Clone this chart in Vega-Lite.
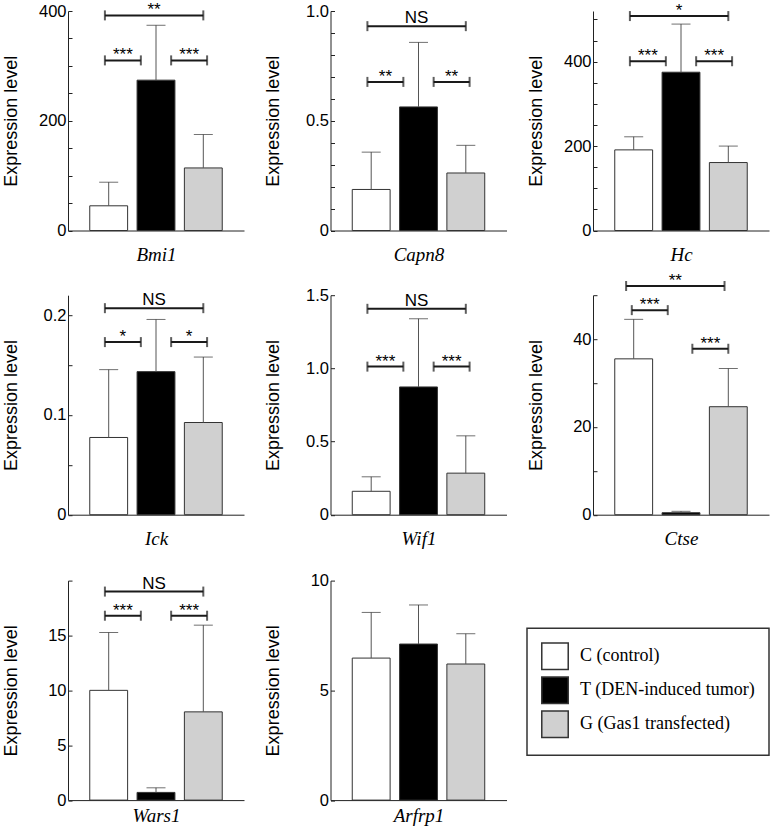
{
"$schema":"https://vega.github.io/schema/vega-lite/v6.json",
"padding":{"left":1,"top":1,"right":0,"bottom":0},
"datasets":{"d":[
{"gene":"Bmi1","group":"C","mean":45,"upper":88},
{"gene":"Bmi1","group":"T","mean":274,"upper":374},
{"gene":"Bmi1","group":"G","mean":114,"upper":175},
{"gene":"Capn8","group":"C","mean":0.187,"upper":0.357},
{"gene":"Capn8","group":"T","mean":0.563,"upper":0.857},
{"gene":"Capn8","group":"G","mean":0.262,"upper":0.388},
{"gene":"Hc","group":"C","mean":191,"upper":222},
{"gene":"Hc","group":"T","mean":375,"upper":489},
{"gene":"Hc","group":"G","mean":161,"upper":200},
{"gene":"Ick","group":"C","mean":0.0774,"upper":0.1454},
{"gene":"Ick","group":"T","mean":0.1434,"upper":0.1957},
{"gene":"Ick","group":"G","mean":0.0924,"upper":0.158},
{"gene":"Wif1","group":"C","mean":0.16,"upper":0.259},
{"gene":"Wif1","group":"T","mean":0.873,"upper":1.339},
{"gene":"Wif1","group":"G","mean":0.284,"upper":0.539},
{"gene":"Ctse","group":"C","mean":35.5,"upper":44.5},
{"gene":"Ctse","group":"T","mean":0.45,"upper":0.77},
{"gene":"Ctse","group":"G","mean":24.6,"upper":33.3},
{"gene":"Wars1","group":"C","mean":10.0,"upper":15.27},
{"gene":"Wars1","group":"T","mean":0.7,"upper":1.12},
{"gene":"Wars1","group":"G","mean":8.04,"upper":15.94},
{"gene":"Arfrp1","group":"C","mean":6.47,"upper":8.55},
{"gene":"Arfrp1","group":"T","mean":7.11,"upper":8.89},
{"gene":"Arfrp1","group":"G","mean":6.2,"upper":7.58},
{"gene":"Bmi1","pair":"CG","from":"C","to":"G","h":392,"label":"**"},
{"gene":"Bmi1","pair":"CT","from":"C","to":"T","h":310,"label":"***"},
{"gene":"Bmi1","pair":"TG","from":"T","to":"G","h":310,"label":"***"},
{"gene":"Capn8","pair":"CG","from":"C","to":"G","h":0.931,"label":"NS"},
{"gene":"Capn8","pair":"CT","from":"C","to":"T","h":0.677,"label":"**"},
{"gene":"Capn8","pair":"TG","from":"T","to":"G","h":0.677,"label":"**"},
{"gene":"Hc","pair":"CG","from":"C","to":"G","h":508,"label":"*"},
{"gene":"Hc","pair":"CT","from":"C","to":"T","h":401,"label":"***"},
{"gene":"Hc","pair":"TG","from":"T","to":"G","h":401,"label":"***"},
{"gene":"Ick","pair":"CG","from":"C","to":"G","h":0.207,"label":"NS"},
{"gene":"Ick","pair":"CT","from":"C","to":"T","h":0.173,"label":"*"},
{"gene":"Ick","pair":"TG","from":"T","to":"G","h":0.173,"label":"*"},
{"gene":"Wif1","pair":"CG","from":"C","to":"G","h":1.407,"label":"NS"},
{"gene":"Wif1","pair":"CT","from":"C","to":"T","h":1.012,"label":"***"},
{"gene":"Wif1","pair":"TG","from":"T","to":"G","h":1.012,"label":"***"},
{"gene":"Ctse","pair":"CG","from":"C","to":"G","h":52.1,"label":"**"},
{"gene":"Ctse","pair":"CT","from":"C","to":"T","h":46.6,"label":"***"},
{"gene":"Ctse","pair":"TG","from":"T","to":"G","h":37.8,"label":"***"},
{"gene":"Wars1","pair":"CG","from":"C","to":"G","h":19.0,"label":"NS"},
{"gene":"Wars1","pair":"CT","from":"C","to":"T","h":16.8,"label":"***"},
{"gene":"Wars1","pair":"TG","from":"T","to":"G","h":16.8,"label":"***"}
]},
"data":{"name":"d"},
"spacing":6.2,
"vconcat":[
{"hconcat":[
{"width":176,"height":219.5,"transform":[{"filter":"datum.gene === 'Bmi1'"}],"layer":[
{"transform":[{"filter":"datum.group"}],"mark":{"type":"bar","stroke":"#333","strokeWidth":1},"encoding":{"x":{"field":"group","type":"nominal","scale":{"domain":["C","T","G"],"paddingInner":0.2,"paddingOuter":0.46},"axis":{"title":"Bmi1"}},"y":{"field":"mean","type":"quantitative","scale":{"domain":[0,400],"nice":false},"axis":{"title":"Expression level","labelOverlap":false,"tickCount":30,"values":[0,50,100,150,200,250,300,350,400],"labelExpr":"datum.value % 200 === 0 ? format(datum.value, 'd') : ''"}},"fill":{"field":"group","type":"nominal","scale":{"domain":["C","T","G"],"range":["#ffffff","#000000","#d0d0d0"]},"legend":{"orient":"none","legendX":459,"legendY":617.3,"title":null,"labelExpr":"datum.label === 'C' ? 'C (control)' : datum.label === 'T' ? 'T (DEN-induced tumor)' : 'G (Gas1 transfected)'"}}}},
{"transform":[{"filter":"datum.group"}],"mark":{"type":"rule","color":"#555","strokeWidth":1},"encoding":{"x":{"field":"group","type":"nominal"},"y":{"field":"mean","type":"quantitative"},"y2":{"field":"upper"}}},
{"transform":[{"filter":"datum.group"}],"mark":{"type":"tick","orient":"horizontal","color":"#333","thickness":1,"size":19},"encoding":{"x":{"field":"group","type":"nominal"},"y":{"field":"upper","type":"quantitative"}}},
{"transform":[{"filter":"datum.pair"}],"encoding":{"y":{"field":"h","type":"quantitative"}},"layer":[
{"transform":[{"filter":"datum.pair==='CT'"}],"layer":[
{"mark":{"type":"rule","color":"#1a1a1a","strokeWidth":2},"encoding":{"x":{"field":"from","type":"nominal","bandPosition":0.4},"x2":{"field":"to","bandPosition":0.1}}},
{"mark":{"type":"tick","orient":"vertical","color":"#1a1a1a","thickness":2,"size":10},"encoding":{"x":{"field":"from","type":"nominal","bandPosition":0.4}}},
{"mark":{"type":"tick","orient":"vertical","color":"#1a1a1a","thickness":2,"size":10},"encoding":{"x":{"field":"to","type":"nominal","bandPosition":0.1}}},
{"mark":{"type":"text","fontSize":17,"baseline":"alphabetic","dy":0,"color":"#000"},"encoding":{"x":{"field":"from","type":"nominal","bandPosition":0.875},"text":{"field":"label"}}}]},
{"transform":[{"filter":"datum.pair==='TG'"}],"layer":[
{"mark":{"type":"rule","color":"#1a1a1a","strokeWidth":2},"encoding":{"x":{"field":"from","type":"nominal","bandPosition":0.9},"x2":{"field":"to","bandPosition":0.6}}},
{"mark":{"type":"tick","orient":"vertical","color":"#1a1a1a","thickness":2,"size":10},"encoding":{"x":{"field":"from","type":"nominal","bandPosition":0.9}}},
{"mark":{"type":"tick","orient":"vertical","color":"#1a1a1a","thickness":2,"size":10},"encoding":{"x":{"field":"to","type":"nominal","bandPosition":0.6}}},
{"mark":{"type":"text","fontSize":17,"baseline":"alphabetic","dy":0,"color":"#000"},"encoding":{"x":{"field":"from","type":"nominal","bandPosition":1.375},"text":{"field":"label"}}}]},
{"transform":[{"filter":"datum.pair==='CG'"}],"layer":[
{"mark":{"type":"rule","color":"#1a1a1a","strokeWidth":2},"encoding":{"x":{"field":"from","type":"nominal","bandPosition":0.4},"x2":{"field":"to","bandPosition":0.5}}},
{"mark":{"type":"tick","orient":"vertical","color":"#1a1a1a","thickness":2,"size":10},"encoding":{"x":{"field":"from","type":"nominal","bandPosition":0.4}}},
{"mark":{"type":"tick","orient":"vertical","color":"#1a1a1a","thickness":2,"size":10},"encoding":{"x":{"field":"to","type":"nominal","bandPosition":0.5}}},
{"mark":{"type":"text","fontSize":17,"baseline":"alphabetic","dy":0,"color":"#000"},"encoding":{"x":{"field":"from","type":"nominal","bandPosition":1.7},"text":{"field":"label"}}}]}
]}
]},
{"width":176,"height":219.5,"transform":[{"filter":"datum.gene === 'Capn8'"}],"layer":[
{"transform":[{"filter":"datum.group"}],"mark":{"type":"bar","stroke":"#333","strokeWidth":1},"encoding":{"x":{"field":"group","type":"nominal","scale":{"domain":["C","T","G"],"paddingInner":0.2,"paddingOuter":0.46},"axis":{"title":"Capn8"}},"y":{"field":"mean","type":"quantitative","scale":{"domain":[0,1],"nice":false},"axis":{"title":"Expression level","labelOverlap":false,"tickCount":30,"values":[0,0.1,0.2,0.3,0.4,0.5,0.6,0.7,0.8,0.9,1.0],"labelExpr":"datum.value === 0 ? '0' : (round(datum.value * 10) % 5 === 0 ? format(datum.value, '.1f') : '')"}},"fill":{"field":"group","type":"nominal","scale":{"domain":["C","T","G"],"range":["#ffffff","#000000","#d0d0d0"]},"legend":null}}},
{"transform":[{"filter":"datum.group"}],"mark":{"type":"rule","color":"#555","strokeWidth":1},"encoding":{"x":{"field":"group","type":"nominal"},"y":{"field":"mean","type":"quantitative"},"y2":{"field":"upper"}}},
{"transform":[{"filter":"datum.group"}],"mark":{"type":"tick","orient":"horizontal","color":"#333","thickness":1,"size":19},"encoding":{"x":{"field":"group","type":"nominal"},"y":{"field":"upper","type":"quantitative"}}},
{"transform":[{"filter":"datum.pair"}],"encoding":{"y":{"field":"h","type":"quantitative"}},"layer":[
{"transform":[{"filter":"datum.pair==='CT'"}],"layer":[
{"mark":{"type":"rule","color":"#1a1a1a","strokeWidth":2},"encoding":{"x":{"field":"from","type":"nominal","bandPosition":0.4},"x2":{"field":"to","bandPosition":0.1}}},
{"mark":{"type":"tick","orient":"vertical","color":"#1a1a1a","thickness":2,"size":10},"encoding":{"x":{"field":"from","type":"nominal","bandPosition":0.4}}},
{"mark":{"type":"tick","orient":"vertical","color":"#1a1a1a","thickness":2,"size":10},"encoding":{"x":{"field":"to","type":"nominal","bandPosition":0.1}}},
{"mark":{"type":"text","fontSize":17,"baseline":"alphabetic","dy":0,"color":"#000"},"encoding":{"x":{"field":"from","type":"nominal","bandPosition":0.875},"text":{"field":"label"}}}]},
{"transform":[{"filter":"datum.pair==='TG'"}],"layer":[
{"mark":{"type":"rule","color":"#1a1a1a","strokeWidth":2},"encoding":{"x":{"field":"from","type":"nominal","bandPosition":0.9},"x2":{"field":"to","bandPosition":0.6}}},
{"mark":{"type":"tick","orient":"vertical","color":"#1a1a1a","thickness":2,"size":10},"encoding":{"x":{"field":"from","type":"nominal","bandPosition":0.9}}},
{"mark":{"type":"tick","orient":"vertical","color":"#1a1a1a","thickness":2,"size":10},"encoding":{"x":{"field":"to","type":"nominal","bandPosition":0.6}}},
{"mark":{"type":"text","fontSize":17,"baseline":"alphabetic","dy":0,"color":"#000"},"encoding":{"x":{"field":"from","type":"nominal","bandPosition":1.375},"text":{"field":"label"}}}]},
{"transform":[{"filter":"datum.pair==='CG'"}],"layer":[
{"mark":{"type":"rule","color":"#1a1a1a","strokeWidth":2},"encoding":{"x":{"field":"from","type":"nominal","bandPosition":0.4},"x2":{"field":"to","bandPosition":0.5}}},
{"mark":{"type":"tick","orient":"vertical","color":"#1a1a1a","thickness":2,"size":10},"encoding":{"x":{"field":"from","type":"nominal","bandPosition":0.4}}},
{"mark":{"type":"tick","orient":"vertical","color":"#1a1a1a","thickness":2,"size":10},"encoding":{"x":{"field":"to","type":"nominal","bandPosition":0.5}}},
{"mark":{"type":"text","fontSize":17,"baseline":"alphabetic","dy":-3,"color":"#000"},"encoding":{"x":{"field":"from","type":"nominal","bandPosition":1.7},"text":{"field":"label"}}}]}
]}
]},
{"width":176,"height":219.5,"transform":[{"filter":"datum.gene === 'Hc'"}],"layer":[
{"transform":[{"filter":"datum.group"}],"mark":{"type":"bar","stroke":"#333","strokeWidth":1},"encoding":{"x":{"field":"group","type":"nominal","scale":{"domain":["C","T","G"],"paddingInner":0.2,"paddingOuter":0.46},"axis":{"title":"Hc"}},"y":{"field":"mean","type":"quantitative","scale":{"domain":[0,520],"nice":false},"axis":{"title":"Expression level","labelOverlap":false,"tickCount":30,"values":[0,50,100,150,200,250,300,350,400,450,500],"labelExpr":"datum.value % 200 === 0 ? format(datum.value, 'd') : ''"}},"fill":{"field":"group","type":"nominal","scale":{"domain":["C","T","G"],"range":["#ffffff","#000000","#d0d0d0"]},"legend":null}}},
{"transform":[{"filter":"datum.group"}],"mark":{"type":"rule","color":"#555","strokeWidth":1},"encoding":{"x":{"field":"group","type":"nominal"},"y":{"field":"mean","type":"quantitative"},"y2":{"field":"upper"}}},
{"transform":[{"filter":"datum.group"}],"mark":{"type":"tick","orient":"horizontal","color":"#333","thickness":1,"size":19},"encoding":{"x":{"field":"group","type":"nominal"},"y":{"field":"upper","type":"quantitative"}}},
{"transform":[{"filter":"datum.pair"}],"encoding":{"y":{"field":"h","type":"quantitative"}},"layer":[
{"transform":[{"filter":"datum.pair==='CT'"}],"layer":[
{"mark":{"type":"rule","color":"#1a1a1a","strokeWidth":2},"encoding":{"x":{"field":"from","type":"nominal","bandPosition":0.4},"x2":{"field":"to","bandPosition":0.1}}},
{"mark":{"type":"tick","orient":"vertical","color":"#1a1a1a","thickness":2,"size":10},"encoding":{"x":{"field":"from","type":"nominal","bandPosition":0.4}}},
{"mark":{"type":"tick","orient":"vertical","color":"#1a1a1a","thickness":2,"size":10},"encoding":{"x":{"field":"to","type":"nominal","bandPosition":0.1}}},
{"mark":{"type":"text","fontSize":17,"baseline":"alphabetic","dy":0,"color":"#000"},"encoding":{"x":{"field":"from","type":"nominal","bandPosition":0.875},"text":{"field":"label"}}}]},
{"transform":[{"filter":"datum.pair==='TG'"}],"layer":[
{"mark":{"type":"rule","color":"#1a1a1a","strokeWidth":2},"encoding":{"x":{"field":"from","type":"nominal","bandPosition":0.9},"x2":{"field":"to","bandPosition":0.6}}},
{"mark":{"type":"tick","orient":"vertical","color":"#1a1a1a","thickness":2,"size":10},"encoding":{"x":{"field":"from","type":"nominal","bandPosition":0.9}}},
{"mark":{"type":"tick","orient":"vertical","color":"#1a1a1a","thickness":2,"size":10},"encoding":{"x":{"field":"to","type":"nominal","bandPosition":0.6}}},
{"mark":{"type":"text","fontSize":17,"baseline":"alphabetic","dy":0,"color":"#000"},"encoding":{"x":{"field":"from","type":"nominal","bandPosition":1.375},"text":{"field":"label"}}}]},
{"transform":[{"filter":"datum.pair==='CG'"}],"layer":[
{"mark":{"type":"rule","color":"#1a1a1a","strokeWidth":2},"encoding":{"x":{"field":"from","type":"nominal","bandPosition":0.4},"x2":{"field":"to","bandPosition":0.5}}},
{"mark":{"type":"tick","orient":"vertical","color":"#1a1a1a","thickness":2,"size":10},"encoding":{"x":{"field":"from","type":"nominal","bandPosition":0.4}}},
{"mark":{"type":"tick","orient":"vertical","color":"#1a1a1a","thickness":2,"size":10},"encoding":{"x":{"field":"to","type":"nominal","bandPosition":0.5}}},
{"mark":{"type":"text","fontSize":17,"baseline":"alphabetic","dy":0,"color":"#000"},"encoding":{"x":{"field":"from","type":"nominal","bandPosition":1.7},"text":{"field":"label"}}}]}
]}
]}
],"spacing":19.5},
{"vconcat":[
{"hconcat":[
{"width":176,"height":219.5,"transform":[{"filter":"datum.gene === 'Ick'"}],"layer":[
{"transform":[{"filter":"datum.group"}],"mark":{"type":"bar","stroke":"#333","strokeWidth":1},"encoding":{"x":{"field":"group","type":"nominal","scale":{"domain":["C","T","G"],"paddingInner":0.2,"paddingOuter":0.46},"axis":{"title":"Ick"}},"y":{"field":"mean","type":"quantitative","scale":{"domain":[0,0.22],"nice":false},"axis":{"title":"Expression level","labelOverlap":false,"tickCount":30,"values":[0,0.05,0.1,0.15,0.2],"labelExpr":"datum.value === 0 ? '0' : (round(datum.value * 100) % 10 === 0 ? format(datum.value, '.1f') : '')"}},"fill":{"field":"group","type":"nominal","scale":{"domain":["C","T","G"],"range":["#ffffff","#000000","#d0d0d0"]},"legend":null}}},
{"transform":[{"filter":"datum.group"}],"mark":{"type":"rule","color":"#555","strokeWidth":1},"encoding":{"x":{"field":"group","type":"nominal"},"y":{"field":"mean","type":"quantitative"},"y2":{"field":"upper"}}},
{"transform":[{"filter":"datum.group"}],"mark":{"type":"tick","orient":"horizontal","color":"#333","thickness":1,"size":19},"encoding":{"x":{"field":"group","type":"nominal"},"y":{"field":"upper","type":"quantitative"}}},
{"transform":[{"filter":"datum.pair"}],"encoding":{"y":{"field":"h","type":"quantitative"}},"layer":[
{"transform":[{"filter":"datum.pair==='CT'"}],"layer":[
{"mark":{"type":"rule","color":"#1a1a1a","strokeWidth":2},"encoding":{"x":{"field":"from","type":"nominal","bandPosition":0.4},"x2":{"field":"to","bandPosition":0.1}}},
{"mark":{"type":"tick","orient":"vertical","color":"#1a1a1a","thickness":2,"size":10},"encoding":{"x":{"field":"from","type":"nominal","bandPosition":0.4}}},
{"mark":{"type":"tick","orient":"vertical","color":"#1a1a1a","thickness":2,"size":10},"encoding":{"x":{"field":"to","type":"nominal","bandPosition":0.1}}},
{"mark":{"type":"text","fontSize":17,"baseline":"alphabetic","dy":0,"color":"#000"},"encoding":{"x":{"field":"from","type":"nominal","bandPosition":0.875},"text":{"field":"label"}}}]},
{"transform":[{"filter":"datum.pair==='TG'"}],"layer":[
{"mark":{"type":"rule","color":"#1a1a1a","strokeWidth":2},"encoding":{"x":{"field":"from","type":"nominal","bandPosition":0.9},"x2":{"field":"to","bandPosition":0.6}}},
{"mark":{"type":"tick","orient":"vertical","color":"#1a1a1a","thickness":2,"size":10},"encoding":{"x":{"field":"from","type":"nominal","bandPosition":0.9}}},
{"mark":{"type":"tick","orient":"vertical","color":"#1a1a1a","thickness":2,"size":10},"encoding":{"x":{"field":"to","type":"nominal","bandPosition":0.6}}},
{"mark":{"type":"text","fontSize":17,"baseline":"alphabetic","dy":0,"color":"#000"},"encoding":{"x":{"field":"from","type":"nominal","bandPosition":1.375},"text":{"field":"label"}}}]},
{"transform":[{"filter":"datum.pair==='CG'"}],"layer":[
{"mark":{"type":"rule","color":"#1a1a1a","strokeWidth":2},"encoding":{"x":{"field":"from","type":"nominal","bandPosition":0.4},"x2":{"field":"to","bandPosition":0.5}}},
{"mark":{"type":"tick","orient":"vertical","color":"#1a1a1a","thickness":2,"size":10},"encoding":{"x":{"field":"from","type":"nominal","bandPosition":0.4}}},
{"mark":{"type":"tick","orient":"vertical","color":"#1a1a1a","thickness":2,"size":10},"encoding":{"x":{"field":"to","type":"nominal","bandPosition":0.5}}},
{"mark":{"type":"text","fontSize":17,"baseline":"alphabetic","dy":-3,"color":"#000"},"encoding":{"x":{"field":"from","type":"nominal","bandPosition":1.7},"text":{"field":"label"}}}]}
]}
]},
{"width":176,"height":219.5,"transform":[{"filter":"datum.gene === 'Wif1'"}],"layer":[
{"transform":[{"filter":"datum.group"}],"mark":{"type":"bar","stroke":"#333","strokeWidth":1},"encoding":{"x":{"field":"group","type":"nominal","scale":{"domain":["C","T","G"],"paddingInner":0.2,"paddingOuter":0.46},"axis":{"title":"Wif1"}},"y":{"field":"mean","type":"quantitative","scale":{"domain":[0,1.5],"nice":false},"axis":{"title":"Expression level","labelOverlap":false,"tickCount":30,"values":[0,0.5,1,1.5],"labelExpr":"datum.value === 0 ? '0' : format(datum.value, '.1f')"}},"fill":{"field":"group","type":"nominal","scale":{"domain":["C","T","G"],"range":["#ffffff","#000000","#d0d0d0"]},"legend":null}}},
{"transform":[{"filter":"datum.group"}],"mark":{"type":"rule","color":"#555","strokeWidth":1},"encoding":{"x":{"field":"group","type":"nominal"},"y":{"field":"mean","type":"quantitative"},"y2":{"field":"upper"}}},
{"transform":[{"filter":"datum.group"}],"mark":{"type":"tick","orient":"horizontal","color":"#333","thickness":1,"size":19},"encoding":{"x":{"field":"group","type":"nominal"},"y":{"field":"upper","type":"quantitative"}}},
{"transform":[{"filter":"datum.pair"}],"encoding":{"y":{"field":"h","type":"quantitative"}},"layer":[
{"transform":[{"filter":"datum.pair==='CT'"}],"layer":[
{"mark":{"type":"rule","color":"#1a1a1a","strokeWidth":2},"encoding":{"x":{"field":"from","type":"nominal","bandPosition":0.4},"x2":{"field":"to","bandPosition":0.1}}},
{"mark":{"type":"tick","orient":"vertical","color":"#1a1a1a","thickness":2,"size":10},"encoding":{"x":{"field":"from","type":"nominal","bandPosition":0.4}}},
{"mark":{"type":"tick","orient":"vertical","color":"#1a1a1a","thickness":2,"size":10},"encoding":{"x":{"field":"to","type":"nominal","bandPosition":0.1}}},
{"mark":{"type":"text","fontSize":17,"baseline":"alphabetic","dy":0,"color":"#000"},"encoding":{"x":{"field":"from","type":"nominal","bandPosition":0.875},"text":{"field":"label"}}}]},
{"transform":[{"filter":"datum.pair==='TG'"}],"layer":[
{"mark":{"type":"rule","color":"#1a1a1a","strokeWidth":2},"encoding":{"x":{"field":"from","type":"nominal","bandPosition":0.9},"x2":{"field":"to","bandPosition":0.6}}},
{"mark":{"type":"tick","orient":"vertical","color":"#1a1a1a","thickness":2,"size":10},"encoding":{"x":{"field":"from","type":"nominal","bandPosition":0.9}}},
{"mark":{"type":"tick","orient":"vertical","color":"#1a1a1a","thickness":2,"size":10},"encoding":{"x":{"field":"to","type":"nominal","bandPosition":0.6}}},
{"mark":{"type":"text","fontSize":17,"baseline":"alphabetic","dy":0,"color":"#000"},"encoding":{"x":{"field":"from","type":"nominal","bandPosition":1.375},"text":{"field":"label"}}}]},
{"transform":[{"filter":"datum.pair==='CG'"}],"layer":[
{"mark":{"type":"rule","color":"#1a1a1a","strokeWidth":2},"encoding":{"x":{"field":"from","type":"nominal","bandPosition":0.4},"x2":{"field":"to","bandPosition":0.5}}},
{"mark":{"type":"tick","orient":"vertical","color":"#1a1a1a","thickness":2,"size":10},"encoding":{"x":{"field":"from","type":"nominal","bandPosition":0.4}}},
{"mark":{"type":"tick","orient":"vertical","color":"#1a1a1a","thickness":2,"size":10},"encoding":{"x":{"field":"to","type":"nominal","bandPosition":0.5}}},
{"mark":{"type":"text","fontSize":17,"baseline":"alphabetic","dy":-3,"color":"#000"},"encoding":{"x":{"field":"from","type":"nominal","bandPosition":1.7},"text":{"field":"label"}}}]}
]}
]},
{"width":176,"height":219.5,"transform":[{"filter":"datum.gene === 'Ctse'"}],"layer":[
{"transform":[{"filter":"datum.group"}],"mark":{"type":"bar","stroke":"#333","strokeWidth":1},"encoding":{"x":{"field":"group","type":"nominal","scale":{"domain":["C","T","G"],"paddingInner":0.2,"paddingOuter":0.46},"axis":{"title":"Ctse"}},"y":{"field":"mean","type":"quantitative","scale":{"domain":[0,50],"nice":false},"axis":{"title":"Expression level","labelOverlap":false,"tickCount":30,"values":[0,10,20,30,40,50],"labelExpr":"datum.value % 20 === 0 ? format(datum.value, 'd') : ''"}},"fill":{"field":"group","type":"nominal","scale":{"domain":["C","T","G"],"range":["#ffffff","#000000","#d0d0d0"]},"legend":null}}},
{"transform":[{"filter":"datum.group"}],"mark":{"type":"rule","color":"#555","strokeWidth":1},"encoding":{"x":{"field":"group","type":"nominal"},"y":{"field":"mean","type":"quantitative"},"y2":{"field":"upper"}}},
{"transform":[{"filter":"datum.group"}],"mark":{"type":"tick","orient":"horizontal","color":"#333","thickness":1,"size":19},"encoding":{"x":{"field":"group","type":"nominal"},"y":{"field":"upper","type":"quantitative"}}},
{"transform":[{"filter":"datum.pair"}],"encoding":{"y":{"field":"h","type":"quantitative"}},"layer":[
{"transform":[{"filter":"datum.pair==='CT'"}],"layer":[
{"mark":{"type":"rule","color":"#1a1a1a","strokeWidth":2},"encoding":{"x":{"field":"from","type":"nominal","bandPosition":0.45},"x2":{"field":"to","bandPosition":0.15}}},
{"mark":{"type":"tick","orient":"vertical","color":"#1a1a1a","thickness":2,"size":10},"encoding":{"x":{"field":"from","type":"nominal","bandPosition":0.45}}},
{"mark":{"type":"tick","orient":"vertical","color":"#1a1a1a","thickness":2,"size":10},"encoding":{"x":{"field":"to","type":"nominal","bandPosition":0.15}}},
{"mark":{"type":"text","fontSize":17,"baseline":"alphabetic","dy":0,"color":"#000"},"encoding":{"x":{"field":"from","type":"nominal","bandPosition":0.925},"text":{"field":"label"}}}]},
{"transform":[{"filter":"datum.pair==='TG'"}],"layer":[
{"mark":{"type":"rule","color":"#1a1a1a","strokeWidth":2},"encoding":{"x":{"field":"from","type":"nominal","bandPosition":0.8},"x2":{"field":"to","bandPosition":0.5}}},
{"mark":{"type":"tick","orient":"vertical","color":"#1a1a1a","thickness":2,"size":10},"encoding":{"x":{"field":"from","type":"nominal","bandPosition":0.8}}},
{"mark":{"type":"tick","orient":"vertical","color":"#1a1a1a","thickness":2,"size":10},"encoding":{"x":{"field":"to","type":"nominal","bandPosition":0.5}}},
{"mark":{"type":"text","fontSize":17,"baseline":"alphabetic","dy":0,"color":"#000"},"encoding":{"x":{"field":"from","type":"nominal","bandPosition":1.275},"text":{"field":"label"}}}]},
{"transform":[{"filter":"datum.pair==='CG'"}],"layer":[
{"mark":{"type":"rule","color":"#1a1a1a","strokeWidth":2},"encoding":{"x":{"field":"from","type":"nominal","bandPosition":0.3},"x2":{"field":"to","bandPosition":0.4}}},
{"mark":{"type":"tick","orient":"vertical","color":"#1a1a1a","thickness":2,"size":10},"encoding":{"x":{"field":"from","type":"nominal","bandPosition":0.3}}},
{"mark":{"type":"tick","orient":"vertical","color":"#1a1a1a","thickness":2,"size":10},"encoding":{"x":{"field":"to","type":"nominal","bandPosition":0.4}}},
{"mark":{"type":"text","fontSize":17,"baseline":"alphabetic","dy":0,"color":"#000"},"encoding":{"x":{"field":"from","type":"nominal","bandPosition":1.6},"text":{"field":"label"}}}]}
]}
]}
],"spacing":19.5},
{"hconcat":[
{"width":176,"height":219.5,"transform":[{"filter":"datum.gene === 'Wars1'"}],"layer":[
{"transform":[{"filter":"datum.group"}],"mark":{"type":"bar","stroke":"#333","strokeWidth":1},"encoding":{"x":{"field":"group","type":"nominal","scale":{"domain":["C","T","G"],"paddingInner":0.2,"paddingOuter":0.46},"axis":{"title":"Wars1","titlePadding":6}},"y":{"field":"mean","type":"quantitative","scale":{"domain":[0,20],"nice":false},"axis":{"title":"Expression level","labelOverlap":false,"tickCount":30,"values":[0,5,10,15,20],"labelExpr":"datum.value < 20 ? format(datum.value, 'd') : ''"}},"fill":{"field":"group","type":"nominal","scale":{"domain":["C","T","G"],"range":["#ffffff","#000000","#d0d0d0"]},"legend":null}}},
{"transform":[{"filter":"datum.group"}],"mark":{"type":"rule","color":"#555","strokeWidth":1},"encoding":{"x":{"field":"group","type":"nominal"},"y":{"field":"mean","type":"quantitative"},"y2":{"field":"upper"}}},
{"transform":[{"filter":"datum.group"}],"mark":{"type":"tick","orient":"horizontal","color":"#333","thickness":1,"size":19},"encoding":{"x":{"field":"group","type":"nominal"},"y":{"field":"upper","type":"quantitative"}}},
{"transform":[{"filter":"datum.pair"}],"encoding":{"y":{"field":"h","type":"quantitative"}},"layer":[
{"transform":[{"filter":"datum.pair==='CT'"}],"layer":[
{"mark":{"type":"rule","color":"#1a1a1a","strokeWidth":2},"encoding":{"x":{"field":"from","type":"nominal","bandPosition":0.4},"x2":{"field":"to","bandPosition":0.1}}},
{"mark":{"type":"tick","orient":"vertical","color":"#1a1a1a","thickness":2,"size":10},"encoding":{"x":{"field":"from","type":"nominal","bandPosition":0.4}}},
{"mark":{"type":"tick","orient":"vertical","color":"#1a1a1a","thickness":2,"size":10},"encoding":{"x":{"field":"to","type":"nominal","bandPosition":0.1}}},
{"mark":{"type":"text","fontSize":17,"baseline":"alphabetic","dy":0,"color":"#000"},"encoding":{"x":{"field":"from","type":"nominal","bandPosition":0.875},"text":{"field":"label"}}}]},
{"transform":[{"filter":"datum.pair==='TG'"}],"layer":[
{"mark":{"type":"rule","color":"#1a1a1a","strokeWidth":2},"encoding":{"x":{"field":"from","type":"nominal","bandPosition":0.9},"x2":{"field":"to","bandPosition":0.6}}},
{"mark":{"type":"tick","orient":"vertical","color":"#1a1a1a","thickness":2,"size":10},"encoding":{"x":{"field":"from","type":"nominal","bandPosition":0.9}}},
{"mark":{"type":"tick","orient":"vertical","color":"#1a1a1a","thickness":2,"size":10},"encoding":{"x":{"field":"to","type":"nominal","bandPosition":0.6}}},
{"mark":{"type":"text","fontSize":17,"baseline":"alphabetic","dy":0,"color":"#000"},"encoding":{"x":{"field":"from","type":"nominal","bandPosition":1.375},"text":{"field":"label"}}}]},
{"transform":[{"filter":"datum.pair==='CG'"}],"layer":[
{"mark":{"type":"rule","color":"#1a1a1a","strokeWidth":2},"encoding":{"x":{"field":"from","type":"nominal","bandPosition":0.4},"x2":{"field":"to","bandPosition":0.5}}},
{"mark":{"type":"tick","orient":"vertical","color":"#1a1a1a","thickness":2,"size":10},"encoding":{"x":{"field":"from","type":"nominal","bandPosition":0.4}}},
{"mark":{"type":"tick","orient":"vertical","color":"#1a1a1a","thickness":2,"size":10},"encoding":{"x":{"field":"to","type":"nominal","bandPosition":0.5}}},
{"mark":{"type":"text","fontSize":17,"baseline":"alphabetic","dy":-3,"color":"#000"},"encoding":{"x":{"field":"from","type":"nominal","bandPosition":1.7},"text":{"field":"label"}}}]}
]}
]},
{"width":176,"height":219.5,"transform":[{"filter":"datum.gene === 'Arfrp1'"}],"layer":[
{"transform":[{"filter":"datum.group"}],"mark":{"type":"bar","stroke":"#333","strokeWidth":1},"encoding":{"x":{"field":"group","type":"nominal","scale":{"domain":["C","T","G"],"paddingInner":0.2,"paddingOuter":0.46},"axis":{"title":"Arfrp1","titlePadding":6}},"y":{"field":"mean","type":"quantitative","scale":{"domain":[0,10],"nice":false},"axis":{"title":"Expression level","labelOverlap":false,"tickCount":30,"values":[0,5,10],"labelExpr":"format(datum.value, 'd')"}},"fill":{"field":"group","type":"nominal","scale":{"domain":["C","T","G"],"range":["#ffffff","#000000","#d0d0d0"]},"legend":null}}},
{"transform":[{"filter":"datum.group"}],"mark":{"type":"rule","color":"#555","strokeWidth":1},"encoding":{"x":{"field":"group","type":"nominal"},"y":{"field":"mean","type":"quantitative"},"y2":{"field":"upper"}}},
{"transform":[{"filter":"datum.group"}],"mark":{"type":"tick","orient":"horizontal","color":"#333","thickness":1,"size":19},"encoding":{"x":{"field":"group","type":"nominal"},"y":{"field":"upper","type":"quantitative"}}}
]}
],"spacing":19.5}
],"spacing":23.4}
],
"config":{
"font":"Liberation Sans",
"view":{"stroke":null},
"axis":{"grid":false,"domainColor":"#222","tickColor":"#222","labelFont":"Liberation Sans","labelFontSize":16.5,"labelColor":"#000","titleFont":"Liberation Sans","titleFontSize":18,"titleFontWeight":"normal","titleColor":"#000","labelOverlap":false,"labelFlush":false},
"axisY":{"tickSize":-4,"labelPadding":6,"titleX":-52,"titleBaseline":"alphabetic"},
"axisX":{"ticks":false,"labels":false,"titleFont":"Liberation Serif","titleFontStyle":"italic","titleFontSize":19,"titlePadding":15},
"legend":{"symbolType":"square","symbolSize":700,"symbolStrokeColor":"#333","symbolStrokeWidth":1.5,"labelFont":"Liberation Serif","labelFontSize":18,"labelColor":"#000","labelLimit":400,"labelOffset":11,"rowPadding":0,"padding":14,"strokeColor":"#333","strokeWidth":1.5}
}
}
